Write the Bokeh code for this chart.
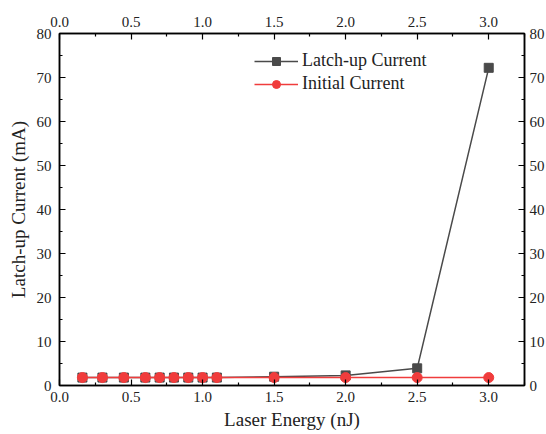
from bokeh.plotting import figure
from bokeh.models import (LinearAxis, Range1d, FixedTicker, NumeralTickFormatter,
                          Legend, LegendItem)
from bokeh.embed import file_html
from bokeh.resources import INLINE

energy = [0.16, 0.3, 0.45, 0.6, 0.7, 0.8, 0.9, 1.0, 1.1, 1.5, 2.0, 2.5, 3.0]
latchup = [1.8, 1.8, 1.8, 1.8, 1.8, 1.8, 1.8, 1.8, 1.8, 2.0, 2.3, 3.9, 72.2]
initial = [1.8, 1.8, 1.8, 1.8, 1.8, 1.8, 1.8, 1.8, 1.8, 1.8, 1.8, 1.8, 1.8]
x_ticks = [0.0, 0.5, 1.0, 1.5, 2.0, 2.5, 3.0]
y_ticks = [0, 10, 20, 30, 40, 50, 60, 70, 80]

FONT = "Liberation Serif"
GRAY = "#4a4a4a"
RED = "#f03c3c"
TXT = "#222222"

p = figure(frame_width=465, frame_height=352, output_backend="svg", toolbar_location=None,
           x_range=Range1d(0, 3.25), y_range=Range1d(0, 80),
           min_border_left=59, min_border_top=33, min_border_right=21, min_border_bottom=49)
p.xgrid.visible = False
p.ygrid.visible = False
p.outline_line_color = "black"
p.outline_line_width = 1.5
p.background_fill_color = "white"
p.border_fill_color = "white"

bottom = p.below[0]
left = p.left[0]
top = LinearAxis()
p.add_layout(top, "above")
right = LinearAxis()
p.add_layout(right, "right")

for ax in (bottom, top):
    ax.ticker = FixedTicker(ticks=x_ticks, minor_ticks=[0.25, 0.75, 1.25, 1.75, 2.25, 2.75, 3.25])
    ax.formatter = NumeralTickFormatter(format="0.0")
for ax in (left, right):
    ax.ticker = FixedTicker(ticks=y_ticks, minor_ticks=[5, 15, 25, 35, 45, 55, 65, 75])

for ax in (bottom, top, left, right):
    ax.major_tick_in = 6
    ax.major_tick_out = 0
    ax.minor_tick_in = 3
    ax.minor_tick_out = 0
    ax.axis_line_width = 1.5
    ax.major_tick_line_width = 1.2
    ax.minor_tick_line_width = 1.2
    ax.axis_line_color = "black"
    ax.major_tick_line_color = "black"
    ax.minor_tick_line_color = "black"
    ax.major_label_text_font = FONT
    ax.major_label_text_font_size = "15px"
    ax.major_label_text_color = TXT
    ax.major_label_standoff = 6
    ax.axis_label_text_font = FONT
    ax.axis_label_text_font_style = "normal"
    ax.axis_label_text_font_size = "19px"
    ax.axis_label_text_color = TXT

top.major_label_standoff = 7
left.major_label_standoff = 8
right.major_label_standoff = 5

bottom.axis_label = "Laser Energy (nJ)"
bottom.axis_label_standoff = 4
left.axis_label = "Latch-up Current (mA)"
left.axis_label_standoff = 5

l1 = p.line(energy, latchup, line_color=GRAY, line_width=1.5)
m1 = p.scatter(energy, latchup, marker="square", size=9, fill_color=GRAY, line_color=GRAY)
l2 = p.line(energy, initial, line_color=RED, line_width=1.5)
m2 = p.scatter(energy, initial, marker="circle", size=10, fill_color=RED, line_color=RED)

legend = Legend(items=[LegendItem(label="Latch-up Current", renderers=[l1, m1]),
                       LegendItem(label="Initial Current", renderers=[l2, m2])],
                location=(195, 291), padding=0, margin=0, spacing=2,
                glyph_width=44, glyph_height=20, label_standoff=4,
                label_text_font=FONT, label_text_font_size="18px", label_text_color=TXT,
                background_fill_alpha=0, border_line_alpha=0)
p.add_layout(legend, "center")

open("out.html", "w").write(file_html(p, INLINE))
